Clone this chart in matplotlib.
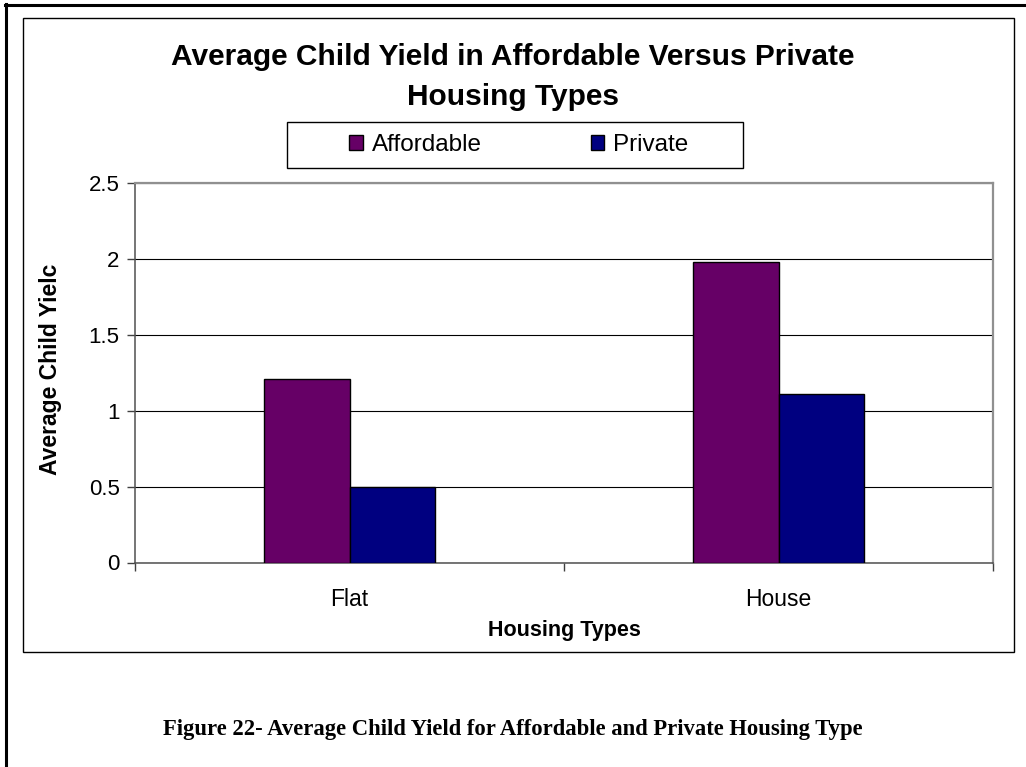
import numpy as np
import matplotlib.pyplot as plt
from matplotlib.patches import Rectangle
from matplotlib.lines import Line2D

plt.rcParams['font.family'] = ['Liberation Sans', 'DejaVu Sans']

categories = ['Flat', 'House']
affordable = [1.21, 1.98]
private = [0.50, 1.11]
series_names = ['Affordable', 'Private']
y_ticks = [0, 0.5, 1, 1.5, 2, 2.5]
y_tick_labels = ['0', '0.5', '1', '1.5', '2', '2.5']

W, H = 1026, 767
purple = '#660066'
navy = '#000080'


def fx(x):
    return x / W


def fy(y):
    return 1 - y / H


fig = plt.figure(figsize=(W / 100, H / 100), dpi=100)
fig.patch.set_facecolor('white')

# thick page border (left and top only)
fig.add_artist(Line2D([fx(6), fx(6)], [fy(4), 0], transform=fig.transFigure,
                      color='black', lw=2.2))
fig.add_artist(Line2D([fx(5), 1], [fy(5), fy(5)], transform=fig.transFigure,
                      color='black', lw=2.2))

# chart frame
fig.add_artist(Rectangle((fx(23), fy(652)), fx(1014) - fx(23), fy(18) - fy(652),
                         transform=fig.transFigure, fill=False,
                         edgecolor='black', lw=1.0))

ax = fig.add_axes([fx(135), fy(562.5), fx(993) - fx(135), fy(183) - fy(562.5)])

x = np.arange(len(categories))
w = 0.2
ax.bar(x - w / 2, affordable, w, color=purple, edgecolor='black', lw=1.0,
       label=series_names[0], zorder=3)
ax.bar(x + w / 2, private, w, color=navy, edgecolor='black', lw=1.0,
       label=series_names[1], zorder=3)

ax.set_xlim(-0.5, len(categories) - 0.5)
ax.set_ylim(0, 2.5)
ax.set_yticks(y_ticks)
ax.set_yticklabels(y_tick_labels)
ax.yaxis.grid(True, color='black', lw=0.8, zorder=0)

ax.set_xticks(x)
ax.set_xticklabels(categories)
ax.set_xticks(np.arange(-0.5, len(categories), 1.0), minor=True)
ax.tick_params(axis='x', which='major', length=0, pad=18, labelsize=16.5)
ax.tick_params(axis='x', which='minor', length=6, width=1, color='#404040',
               direction='out')
ax.tick_params(axis='y', length=6, width=1, color='#404040', pad=5,
               labelsize=16)

for side in ['top', 'right']:
    ax.spines[side].set_color('#909090')
    ax.spines[side].set_linewidth(1.6)
for side in ['left', 'bottom']:
    ax.spines[side].set_color('#505050')
    ax.spines[side].set_linewidth(1.1)

ax.set_ylabel('Average Child Yielc', fontsize=16.5, fontweight='bold', va='center')
ax.yaxis.set_label_coords(-0.099, 0.51)
ax.set_xlabel('Housing Types', fontsize=15.5, fontweight='bold', va='center')
ax.xaxis.set_label_coords(0.5, -0.18)

fig.text(0.5, fy(57), 'Average Child Yield in Affordable Versus Private',
         ha='center', va='center', fontsize=21.5, fontweight='bold')
fig.text(0.5, fy(97), 'Housing Types',
         ha='center', va='center', fontsize=21.5, fontweight='bold')

# legend box
fig.add_artist(Rectangle((fx(287), fy(168)), fx(743) - fx(287), fy(122) - fy(168),
                         transform=fig.transFigure, facecolor='white',
                         edgecolor='black', lw=1.0))
handles = [Rectangle((0, 0), 1, 1, facecolor=purple, edgecolor='black', lw=1),
           Rectangle((0, 0), 1, 1, facecolor=navy, edgecolor='black', lw=1)]
leg = fig.legend(handles, series_names, loc='center',
                 bbox_to_anchor=(fx(519), fy(145)), ncol=2, fontsize=17.5,
                 frameon=False, handlelength=0.55, handleheight=0.55,
                 handletextpad=0.37, columnspacing=4.5, borderpad=0.2,
                 borderaxespad=0)

fig.text(0.5, fy(729),
         'Figure 22- Average Child Yield for Affordable and Private Housing Type',
         ha='center', va='center', fontsize=16.3, fontweight='bold',
         family=['Liberation Serif', 'DejaVu Serif'])

fig.savefig('out.png', dpi=100)
